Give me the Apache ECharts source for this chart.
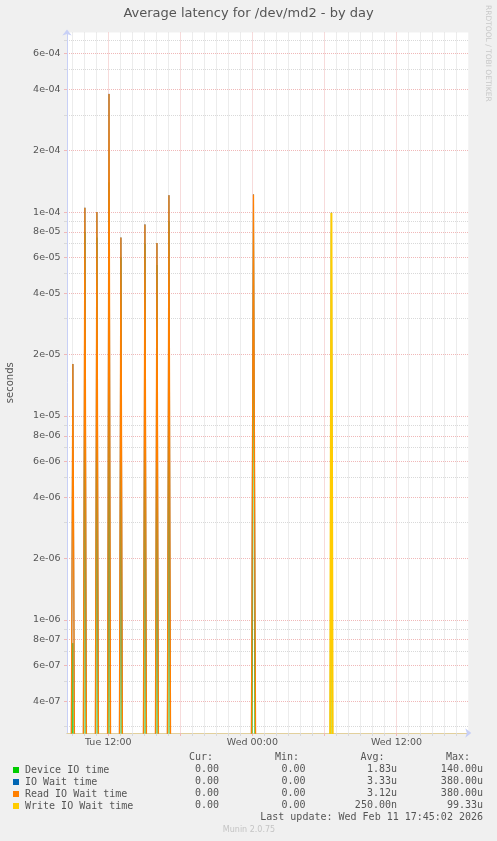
<!DOCTYPE html>
<html style="height: 100%">
<head>
<meta charset="utf-8">
</head>
<body style="height: 100%; margin: 0; background: #f0f0f0">
<div id="container" style="width: 497px; height: 841px"></div>
<script src="https://cdn.jsdelivr.net/npm/echarts@6/dist/echarts.min.js"></script>
<script type="text/javascript">
// hours counted from Tue 00:00
var X_MIN = 8.56, X_MAX = 41.98;
var Y_MIN = 2.79e-7, Y_MAX = 7.6e-4;
// log axis cannot draw 0, this stands for "zero" below the plot
var ZERO = 1e-9;

var xMajor = [12, 18, 24, 30, 36];
var xLabels = [12, 24, 36];
var xLabelText = {12: 'Tue 12:00', 24: 'Wed 00:00', 36: 'Wed 12:00'};
var xMinor = [9, 10, 11, 13, 14, 15, 16, 17, 19, 20, 21, 22, 23, 25, 26, 27, 28, 29, 31, 32, 33, 34, 35, 37, 38, 39, 40, 41];

var yMajor = [4e-7, 6e-7, 8e-7, 1e-6, 2e-6, 4e-6, 6e-6, 8e-6, 1e-5, 2e-5, 4e-5, 6e-5, 8e-5, 1e-4, 2e-4, 4e-4, 6e-4];
var yMinor = [3e-7, 5e-7, 7e-7, 9e-7, 3e-6, 5e-6, 7e-6, 9e-6, 3e-5, 5e-5, 7e-5, 9e-5, 3e-4, 5e-4, 7e-4];

// spike centre (hours) and the distance to its zero feet (hours)
var spikeHours   = [9.05, 10.05, 11.05, 12.06, 13.05, 15.05, 16.05, 17.05, 24.09, 30.58];
var spikeHalf    = [0.3, 0.25, 0.25, 0.22, 0.25, 0.25, 0.25, 0.25, 0.33, 0.2];
var devicePeaks  = [7.7e-7, 8e-5, 7.5e-5, 1.4e-4, 6e-5, 7e-5, 5.5e-5, 9e-5, 1.0e-4, 8e-5];
var ioWaitPeaks  = [1.8e-5, 1.05e-4, 1.0e-4, 3.8e-4, 7.5e-5, 8.7e-5, 7.05e-5, 1.21e-4, 1.22e-4, 9.93e-5];
var readPeaks    = [1.8e-5, 1.05e-4, 1.0e-4, 3.8e-4, 7.5e-5, 8.7e-5, 7.05e-5, 1.21e-4, 1.22e-4, 0];
var writePeaks   = [0, 0, 0, 0, 0, 0, 0, 0, 0, 9.93e-5];

var names  = ['Device IO time', 'IO Wait time', 'Read IO Wait time', 'Write IO Wait time'];
var colors = ['#00cc00', '#0066b3', '#ff8000', '#ffcc00'];
var curVals = ['0.00', '0.00', '0.00', '0.00'];
var minVals = ['0.00', '0.00', '0.00', '0.00'];
var avgVals = ['1.83u', '3.33u', '3.12u', '250.00n'];
var maxVals = ['140.00u', '380.00u', '380.00u', '99.33u'];

var MONO = 'DejaVu Sans Mono';
var SANS = 'DejaVu Sans';

function spikes(peaks, scale) {
	var out = [];
	for (var i = 0; i < spikeHours.length; i++) {
		var v = peaks[i] > 0 ? peaks[i] : ZERO;
		var h = spikeHalf[i] * scale;
		out.push([spikeHours[i] - h, ZERO]);
		out.push([spikeHours[i], v]);
		out.push([spikeHours[i] + h, ZERO]);
	}
	return out;
}

function fmtExp(v) {
	var e = Math.floor(Math.log10(v) + 1e-9);
	var m = Math.round(v / Math.pow(10, e));
	return m + 'e' + (e < 0 ? '-' : '+') + (Math.abs(e) < 10 ? '0' : '') + Math.abs(e);
}

var dom = document.getElementById('container');
var myChart = echarts.init(dom);

var gridRed = '#f0b8b8';
var gridGrey = '#d9d9d9';
var axisBlue = '#c8d0f6';

var seriesList = [];
var peaksList = [devicePeaks, ioWaitPeaks, readPeaks, writePeaks];
var widthScale = [0.6, 1, 1, 1];
var lineWidths = [1, 0.7, 1.3, 2];
for (var i = 0; i < names.length; i++) {
	seriesList.push({
		type: 'line',
		name: names[i],
		data: spikes(peaksList[i], widthScale[i]),
		showSymbol: false,
		clip: true,
		color: colors[i],
		lineStyle: { width: lineWidths[i], color: colors[i], opacity: i === 0 ? 0.7 : 1 },
		silent: true,
		animation: false
	});
}

var graphics = [];
var cols = [
	{ head: 'Cur:', headX: 213, valX: 219, vals: curVals },
	{ head: 'Min:', headX: 299, valX: 305.5, vals: minVals },
	{ head: 'Avg:', headX: 384.5, valX: 397, vals: avgVals },
	{ head: 'Max:', headX: 470, valX: 483, vals: maxVals }
];
cols.forEach(function (c) {
	graphics.push({
		type: 'text', x: c.headX, y: 757.5,
		style: { text: c.head, font: '10px ' + MONO, fill: '#555', align: 'right', verticalAlign: 'middle' }
	});
	c.vals.forEach(function (v, k) {
		graphics.push({
			type: 'text', x: c.valX, y: 769.7 + k * 12,
			style: { text: v, font: '10px ' + MONO, fill: '#555', align: 'right', verticalAlign: 'middle' }
		});
	});
});
graphics.push({
	type: 'text', x: 483, y: 817.7,
	style: { text: 'Last update: Wed Feb 11 17:45:02 2026', font: '10px ' + MONO, fill: '#555', align: 'right', verticalAlign: 'middle' }
});
graphics.push({
	type: 'text', x: 249, y: 830,
	style: { text: 'Munin 2.0.75', font: '8px ' + SANS, fill: '#c4c4c4', align: 'center', verticalAlign: 'middle' }
});
graphics.push({
	type: 'text', x: 487.5, y: 5, rotation: -Math.PI / 2,
	style: { text: 'RRDTOOL / TOBI OETIKER', font: '7.5px ' + SANS, fill: '#c8c8c8', align: 'left', verticalAlign: 'middle' }
});

var option = {
	backgroundColor: '#f0f0f0',
	animation: false,
	title: {
		text: 'Average latency for /dev/md2 - by day',
		left: 'center',
		top: 7,
		padding: 0,
		textStyle: { fontFamily: SANS, fontSize: 13, fontWeight: 'normal', color: '#555' }
	},
	legend: {
		orient: 'vertical',
		left: 13,
		top: 764,
		padding: 0,
		itemGap: 0,
		itemWidth: 6,
		itemHeight: 6,
		icon: 'rect',
		selectedMode: false,
		data: names,
		textStyle: { fontFamily: MONO, fontSize: 10, color: '#555', lineHeight: 12, padding: [0, 0, 0, 1] }
	},
	grid: {
		left: 67, right: 28.7, top: 32.5, bottom: 108,
		show: true, backgroundColor: '#ffffff', borderWidth: 0,
		containLabel: false,
		outerBoundsMode: 'none'
	},
	xAxis: [{
		type: 'value', min: X_MIN, max: X_MAX, position: 'bottom',
		axisLine: { show: true, lineStyle: { color: axisBlue, width: 1 }, symbol: ['none', 'arrow'], symbolSize: [7, 6], symbolOffset: [0, 3] },
		axisTick: { show: true, customValues: xMajor, length: 3, inside: false, lineStyle: { color: gridRed } },
		splitLine: { show: true, lineStyle: { color: gridRed, type: [1, 1], width: 1 } },
		axisLabel: {
			customValues: xLabels, margin: 5,
			fontFamily: SANS, fontSize: 9.5, color: '#555',
			formatter: function (v) { return xLabelText[Math.round(v)] || ''; }
		}
	}, {
		type: 'value', min: X_MIN, max: X_MAX, position: 'bottom',
		axisLine: { show: true, lineStyle: { color: '#e2d09c', width: 1 } },
		axisTick: { show: true, customValues: xMinor, length: 3, inside: false, lineStyle: { color: gridGrey } },
		splitLine: { show: true, lineStyle: { color: gridGrey, type: [1, 1], width: 1 } },
		axisLabel: { show: false }
	}],
	yAxis: [{
		type: 'log', min: Y_MIN, max: Y_MAX, position: 'left',
		name: 'seconds', nameLocation: 'middle', nameGap: 52, nameRotate: 90,
		nameTextStyle: { fontFamily: SANS, fontSize: 10, color: '#555' },
		axisLine: { show: true, lineStyle: { color: axisBlue, width: 1 }, symbol: ['none', 'arrow'], symbolSize: [7, 6], symbolOffset: [0, 3] },
		axisTick: { show: true, customValues: yMajor, length: 3, inside: false, lineStyle: { color: gridRed } },
		splitLine: { show: true, lineStyle: { color: gridRed, type: [1, 1], width: 1 } },
		axisLabel: {
			customValues: yMajor, margin: 6.5,
			fontFamily: SANS, fontSize: 9.5, color: '#555',
			formatter: fmtExp
		}
	}, {
		type: 'log', min: Y_MIN, max: Y_MAX, position: 'left',
		axisLine: { show: false },
		axisTick: { show: true, customValues: yMinor, length: 3, inside: false, lineStyle: { color: gridGrey } },
		splitLine: { show: true, lineStyle: { color: gridGrey, type: [1, 1], width: 1 } },
		axisLabel: { show: false }
	}],
	graphic: graphics,
	series: seriesList
};

myChart.setOption(option);
</script>
</body>
</html>
